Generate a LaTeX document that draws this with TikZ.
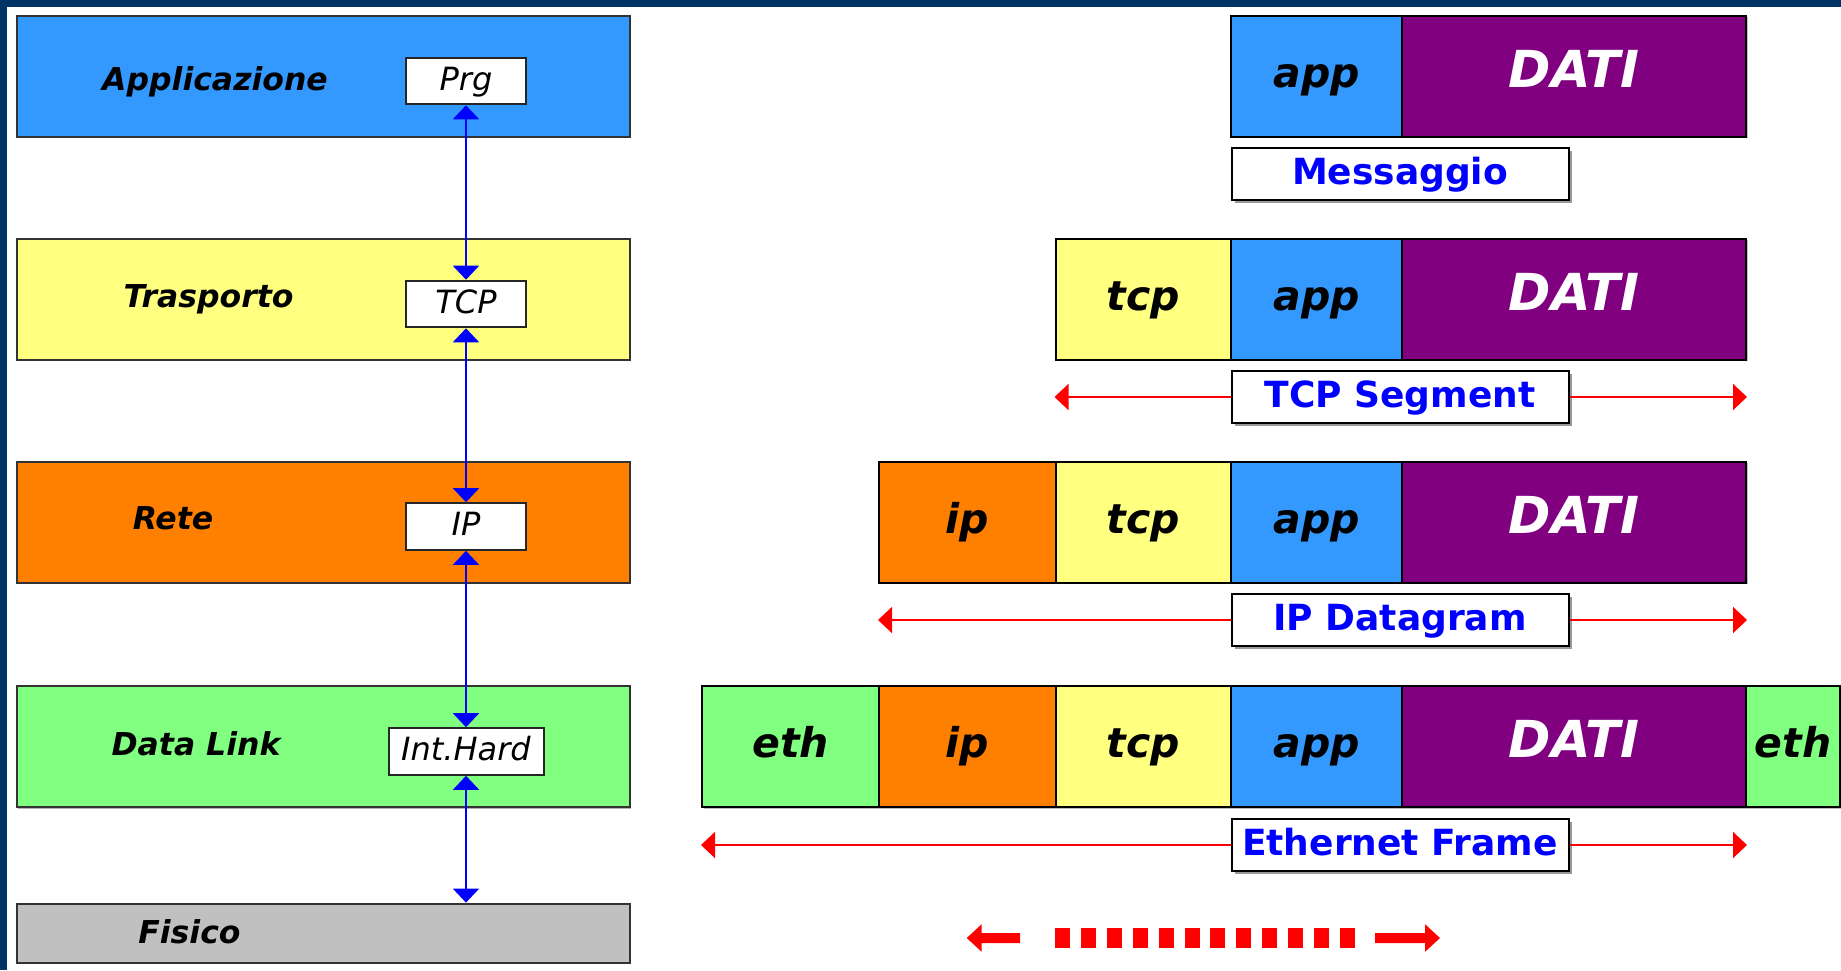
\documentclass[tikz,border=0pt]{standalone}
\usepackage{fontspec}
\setmainfont{DejaVu Sans}
\usetikzlibrary{arrows.meta,shadows}
\definecolor{navy}{HTML}{003366}
\definecolor{appblue}{HTML}{3399FF}
\definecolor{tyellow}{HTML}{FFFF80}
\definecolor{rorange}{HTML}{FF8000}
\definecolor{lgreen}{HTML}{80FF80}
\definecolor{fgray}{HTML}{C0C0C0}
\definecolor{dpurple}{HTML}{800080}
\definecolor{pureblue}{HTML}{0000FF}
\definecolor{purered}{HTML}{FF0000}
\newcommand{\fsz}[1]{\fontsize{#1}{#1}\selectfont}
\begin{document}
\begin{tikzpicture}[x=1pt,y=-1pt,
  layer/.style={draw=black!80, line width=2pt, minimum width=613pt, minimum height=121pt, inner sep=0pt,
     drop shadow={shadow xshift=1.5pt, shadow yshift=-1.5pt, fill=black!30, opacity=1}},
  laylabel/.style={anchor=base, inner sep=0pt, font=\bfseries\itshape\fsz{31.5pt}},
  protobox/.style={draw=black!85, fill=white, line width=2pt, minimum width=120pt, minimum height=46.6pt,
     inner sep=0pt, text height=18pt, text depth=0pt, font=\itshape\fsz{32pt}},
  seg/.style={draw=black, line width=2pt, minimum height=121pt, inner sep=0pt, text height=22pt, text depth=0pt,
     font=\bfseries\itshape\fsz{41pt},
     drop shadow={shadow xshift=1.5pt, shadow yshift=-1.5pt, fill=black!25, opacity=1}},
  dati/.style={seg, fill=dpurple, minimum width=344pt, text=white, font=\bfseries\itshape\fsz{51pt}},
  namebox/.style={draw=black, fill=white, line width=2pt, minimum width=337pt, minimum height=52pt, inner sep=0pt,
     text height=21pt, text depth=0pt, text=pureblue, font=\bfseries\fsz{36pt},
     drop shadow={shadow xshift=3pt, shadow yshift=-3pt, fill=black!40, opacity=1}},
  bluearrow/.style={draw=pureblue, line width=2pt, {Triangle[length=14pt,width=26pt]}-{Triangle[length=14pt,width=26pt]}},
  redarrow/.style={draw=purered, line width=2pt, -{Triangle[length=14pt,width=26pt]}}
]
\useasboundingbox (0,0) rectangle (1841,970);
\fill[white] (0,0) rectangle (1841,970);
\fill[navy] (0,0) rectangle (1841,7);
\fill[navy] (0,0) rectangle (7.3,970);

% ---------- left: layers ----------
\node[layer, fill=appblue] (lapp) at (323,76) {};
\node[layer, fill=tyellow] (ltra) at (323,299) {};
\node[layer, fill=rorange] (lret) at (323,522) {};
\node[layer, fill=lgreen] (ldl) at (323,746.7) {};
\node[layer, fill=fgray, minimum height=59pt] (lfis) at (323,933.1) {};

\node[laylabel] (tapp) at (215,90) {Applicazione};
\node[laylabel] (ttra) at (208.5,307) {Trasporto};
\node[laylabel] (tret) at (173,529.5) {Rete};
\node[laylabel] (tdl) at (196,755) {Data Link};
\node[laylabel] (tfis) at (189.5,943) {Fisico};

\node[protobox] (prg) at (466,81) {Prg};
\node[protobox] (tcpb) at (466,304) {TCP};
\node[protobox] (ipb) at (466,526.5) {IP};
\node[protobox, minimum width=155pt] (ihard) at (466,751.5) {Int.Hard};

\draw[bluearrow] (prg.south) -- (tcpb.north);
\draw[bluearrow] (tcpb.south) -- (ipb.north);
\draw[bluearrow] (ipb.south) -- (ihard.north);
\draw[bluearrow] (ihard.south) -- (ihard.south |- lfis.north);

% ---------- right: encapsulation ----------
% row 1
\node[seg, fill=appblue, minimum width=171pt] (app1) at (1316.5,76) {app};
\node[dati] (dati1) at (1574,76) {DATI};
\node[namebox] (msg) at (1400,174) {Messaggio};

% row 2
\node[seg, fill=tyellow, minimum width=175.5pt] (tcp2) at (1143.25,299) {tcp};
\node[seg, fill=appblue, minimum width=171pt] (app2) at (1316.5,299) {app};
\node[dati] (dati2) at (1574,299) {DATI};
\node[namebox] (tcpseg) at (1400,397) {TCP Segment};
\draw[redarrow] (tcpseg.west) -- (tcpseg.west -| tcp2.west);
\draw[redarrow] (tcpseg.east) -- (tcpseg.east -| dati2.east);

% row 3
\node[seg, fill=rorange, minimum width=176.5pt] (ip3) at (967.25,522) {ip};
\node[seg, fill=tyellow, minimum width=175.5pt] (tcp3) at (1143.25,522) {tcp};
\node[seg, fill=appblue, minimum width=171pt] (app3) at (1316.5,522) {app};
\node[dati] (dati3) at (1574,522) {DATI};
\node[namebox] (ipdg) at (1400,620) {IP Datagram};
\draw[redarrow] (ipdg.west) -- (ipdg.west -| ip3.west);
\draw[redarrow] (ipdg.east) -- (ipdg.east -| dati3.east);

% row 4
\node[seg, fill=lgreen, minimum width=177pt] (eth4) at (790.5,746.7) {eth};
\node[seg, fill=rorange, minimum width=176.5pt] (ip4) at (967.25,746.7) {ip};
\node[seg, fill=tyellow, minimum width=175.5pt] (tcp4) at (1143.25,746.7) {tcp};
\node[seg, fill=appblue, minimum width=171pt] (app4) at (1316.5,746.7) {app};
\node[dati] (dati4) at (1574,746.7) {DATI};
\node[seg, fill=lgreen, minimum width=94pt] (etht) at (1793,746.7) {eth};
\node[namebox] (ethfr) at (1400,845) {Ethernet Frame};
\draw[redarrow] (ethfr.west) -- (ethfr.west -| eth4.west);
\draw[redarrow] (ethfr.east) -- (ethfr.east -| dati4.east);

% ---------- bottom: transmission on the medium ----------
\draw[purered, line width=20.7pt, dash pattern=on 15pt off 10.9pt] (1055,938) -- (1355.1,938);
\fill[purered] (1020,933) -- (981.7,933) -- (981.7,924.2) -- (966.7,938) -- (981.7,951.8) -- (981.7,943) -- (1020,943) -- cycle;
\fill[purered] (1375,933) -- (1425,933) -- (1425,924.2) -- (1440,938) -- (1425,951.8) -- (1425,943) -- (1375,943) -- cycle;
\end{tikzpicture}
\end{document}
